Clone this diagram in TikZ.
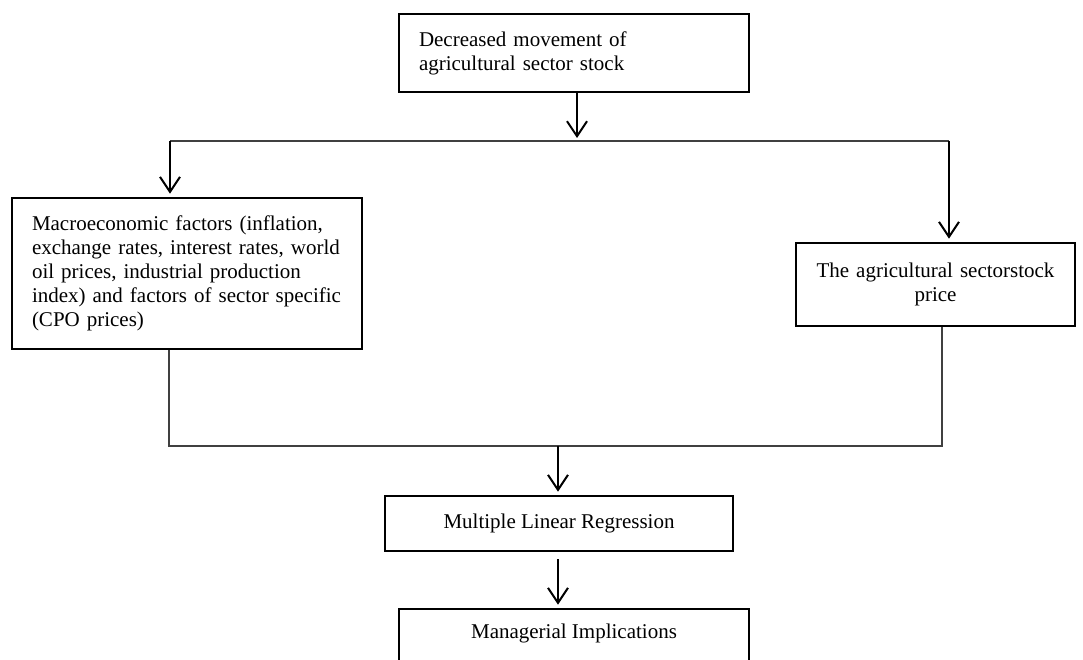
\documentclass[tikz,border=0pt]{standalone}
\usepackage{fontspec}
\setmainfont{Liberation Serif}
\usetikzlibrary{arrows.meta,positioning,calc}

\begin{document}
\begin{tikzpicture}[x=1pt,y=-1pt,
    box/.style={draw, line width=2.6pt, inner ysep=4pt, font=\fontsize{21}{24}\selectfont},
    link/.style={line width=1.4pt, draw=black!75},
    arr/.style={line width=2.2pt, shorten >=3pt, -{Straight Barb[length=15pt,width=20pt,line width=2pt]}}]
    \useasboundingbox (0,0) rectangle (1083,660);
    % boxes
    \node[box, inner xsep=20pt, text width=310pt, minimum height=78pt, align=left] (decline) at (574,53) {Decreased movement of\\agricultural sector stock};
    \node[box, inner xsep=20pt, text width=310pt, minimum height=151pt, align=left] (macro) at (187,273.5) {Macroeconomic factors (inflation,\\exchange rates, interest rates, world\\oil prices, industrial production\\index) and factors of sector specific\\(CPO prices)};
    \node[box, inner xsep=10pt, text width=259pt, minimum height=83pt, align=center] (price) at (935.5,284.5) {The agricultural sectorstock\\price};
    \node[box, minimum width=348pt, minimum height=55pt] (mlr) at (559,523.5) {Multiple Linear Regression};
    \node[box, minimum width=350pt, minimum height=80pt, text depth=35pt] (impl) at (574,649) {Managerial Implications};
    % split to both inputs
    \coordinate (fork) at (577,141);
    \coordinate (lft) at (170,141);
    \coordinate (rgt) at (949,141);
    \draw[arr] (decline.south -| fork) -- (fork);
    \draw[link] (lft) -- (rgt);
    \draw[arr] (lft) -- (lft |- macro.north);
    \draw[arr] (rgt) -- (rgt |- price.north);
    % join into regression
    \coordinate (lb) at (169,446);
    \coordinate (rb) at (942,446);
    \coordinate (join) at (558,446);
    \draw[link] (macro.south -| lb) -- (lb) -- (rb) -- (price.south -| rb);
    \draw[arr] (join) -- (join |- mlr.north);
    \draw[arr] ([yshift=-7pt]mlr.south -| join) -- (impl.north -| join);
\end{tikzpicture}
\end{document}
